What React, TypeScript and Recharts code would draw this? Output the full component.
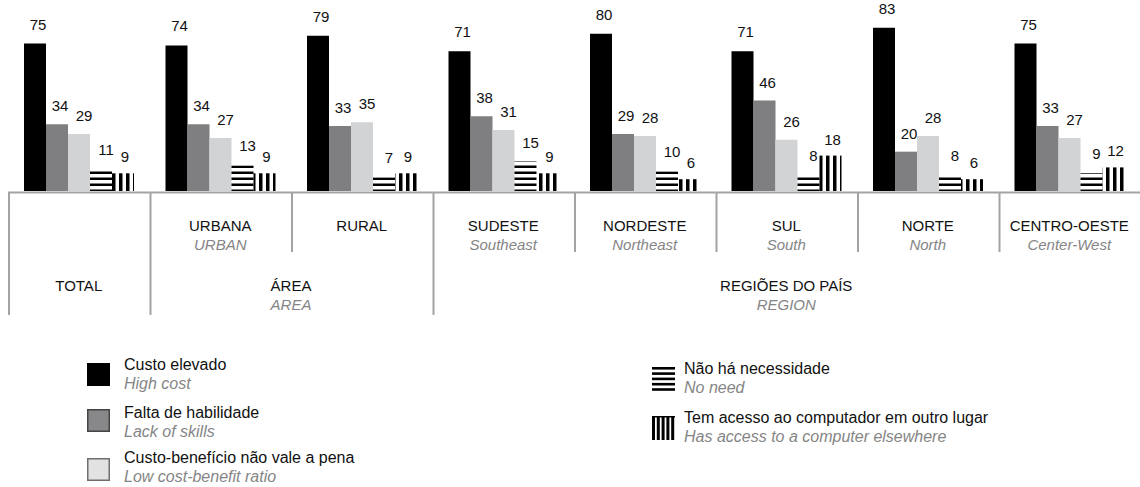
import { BarChart, Bar, XAxis, YAxis, LabelList } from "recharts";

// categories (pt) and their english subtitles
const categories = ["TOTAL", "URBANA", "RURAL", "SUDESTE", "NORDESTE", "SUL", "NORTE", "CENTRO-OESTE"];
const subtitles = ["", "URBAN", "", "Southeast", "Northeast", "South", "North", "Center-West"];

// series, in %
const highCost = [75, 74, 79, 71, 80, 71, 83, 75];
const lackSkills = [34, 34, 33, 38, 29, 46, 20, 33];
const lowBenefit = [29, 27, 35, 31, 28, 26, 28, 27];
const noNeed = [11, 13, 7, 15, 10, 8, 8, 9];
const elsewhere = [9, 9, 9, 9, 6, 18, 6, 12];

// grouping row under the categories
const groups = [
  { pt: "ÁREA", en: "AREA", first: 1, last: 2 },
  { pt: "REGIÕES DO PAÍS", en: "REGION", first: 3, last: 7 },
];

const data = categories.map((name, i) => ({
  name,
  sub: subtitles[i],
  highCost: highCost[i],
  lackSkills: lackSkills[i],
  lowBenefit: lowBenefit[i],
  noNeed: noNeed[i],
  elsewhere: elsewhere[i],
}));

const W = 1140;
const H = 320;
const LEFT = 8;
const TOP = 14;
const AXIS_H = 129;
const BASE = H - AXIS_H;
const BAND = (W - LEFT) / categories.length;
const FONT = '"Liberation Sans", Arial, Helvetica, sans-serif';
const LINE = "#a3a3a3";
const SUB = "#858585";

function TableTick(props: any) {
  const { x, index } = props;
  const left = x - BAND / 2;
  const right = x + BAND / 2;
  const group = groups.find((g) => index >= g.first && index <= g.last);
  const fullLine = !group || index === group.first;
  const txt = { fontFamily: FONT, fontSize: 15, textAnchor: "middle" as const };

  return (
    <g>
      <line x1={left} x2={right} y1={BASE + 1.5} y2={BASE + 1.5} stroke={LINE} strokeWidth={2} />
      <line x1={left + 1} x2={left + 1} y1={BASE + 1} y2={BASE + (fullLine ? 124 : 61)} stroke={LINE} strokeWidth={2} />
      {!group ? (
        <text x={x} y={BASE + 100} fill="#111" {...txt}>{categories[index]}</text>
      ) : (
        <>
          <text x={x} y={BASE + 40} fill="#111" {...txt}>{categories[index]}</text>
          {subtitles[index] && (
            <text x={x} y={BASE + 59} fill={SUB} fontStyle="italic" {...txt}>{subtitles[index]}</text>
          )}
        </>
      )}
      {group && index === group.first && (
        <>
          <text x={left + ((group.last - group.first + 1) * BAND) / 2} y={BASE + 100} fill="#111" {...txt}>
            {group.pt}
          </text>
          <text x={left + ((group.last - group.first + 1) * BAND) / 2} y={BASE + 119} fill={SUB} fontStyle="italic" {...txt}>
            {group.en}
          </text>
        </>
      )}
    </g>
  );
}

const labelStyle = { fontFamily: FONT, fontSize: 15, fill: "#111" };

function Swatch({ kind }: { kind: string }) {
  if (kind === "h") {
    return (
      <svg width={23} height={24}>
        {[0, 1, 2, 3, 4].map((k) => (
          <rect key={k} x={0} y={k * 5.3} width={23} height={2.6} fill="#000" />
        ))}
      </svg>
    );
  }
  if (kind === "v") {
    return (
      <svg width={23} height={24}>
        <rect x={0} y={0} width={23} height={1.5} fill="#000" />
        {[0, 1, 2, 3, 4].map((k) => (
          <rect key={k} x={k * 4.8} y={0} width={3} height={24} fill="#000" />
        ))}
      </svg>
    );
  }
  const fills: Record<string, [string, string]> = {
    black: ["#000", "#000"],
    gray: ["#88888a", "#444"],
    light: ["#e2e2e3", "#6f6f6f"],
  };
  const [fill, stroke] = fills[kind];
  return (
    <svg width={23} height={23}>
      <rect x={0.75} y={0.75} width={21.5} height={21.5} fill={fill} stroke={stroke} strokeWidth={1.5} />
    </svg>
  );
}

const legendItems = [
  { kind: "black", pt: "Custo elevado", en: "High cost", x: 87, y: 355, iy: 8 },
  { kind: "gray", pt: "Falta de habilidade", en: "Lack of skills", x: 87, y: 403, iy: 6 },
  { kind: "light", pt: "Custo-benefício não vale a pena", en: "Low cost-benefit ratio", x: 87, y: 448, iy: 10 },
  { kind: "h", pt: "Não há necessidade", en: "No need", x: 652, y: 359, iy: 8 },
  { kind: "v", pt: "Tem acesso ao computador em outro lugar", en: "Has access to a computer elsewhere", x: 652, y: 408, iy: 8 },
];

export default function App() {
  return (
    <div
      style={{
        position: "absolute",
        left: 0,
        top: 0,
        width: W,
        height: 487,
        background: "#fff",
        fontFamily: FONT,
        overflow: "hidden",
      }}
    >
      <BarChart
        width={W}
        height={H}
        data={data}
        margin={{ top: TOP, right: 0, left: LEFT, bottom: 0 }}
        barSize={22}
        barGap={0}
      >
        <defs>
          <pattern id="hatchH" patternUnits="userSpaceOnUse" width={8} height={6}>
            <rect x={0} y={3.5} width={8} height={2.5} fill="#000" />
          </pattern>
          <pattern id="hatchV" patternUnits="userSpaceOnUse" width={7} height={10}>
            <rect x={0} y={0} width={3.5} height={10} fill="#000" />
          </pattern>
        </defs>
        <XAxis
          dataKey="name"
          height={AXIS_H}
          axisLine={false}
          tickLine={false}
          interval={0}
          tick={<TableTick />}
        />
        <YAxis hide domain={[0, 90]} />
        <Bar dataKey="highCost" fill="#000" isAnimationActive={false}>
          <LabelList dataKey="highCost" position="top" offset={14} dx={3} style={labelStyle} />
        </Bar>
        <Bar dataKey="lackSkills" fill="#7f7f81" isAnimationActive={false}>
          <LabelList dataKey="lackSkills" position="top" offset={13} dx={3} style={labelStyle} />
        </Bar>
        <Bar dataKey="lowBenefit" fill="#d2d3d5" isAnimationActive={false}>
          <LabelList dataKey="lowBenefit" position="top" offset={13} dx={5} style={labelStyle} />
        </Bar>
        <Bar dataKey="noNeed" fill="url(#hatchH)" isAnimationActive={false}>
          <LabelList dataKey="noNeed" position="top" offset={14} dx={5} style={labelStyle} />
        </Bar>
        <Bar dataKey="elsewhere" fill="url(#hatchV)" isAnimationActive={false}>
          <LabelList dataKey="elsewhere" position="top" offset={11} dx={2} style={labelStyle} />
        </Bar>
      </BarChart>

      {legendItems.map((it) => (
        <div key={it.pt} style={{ position: "absolute", left: it.x, top: it.y }}>
          <div style={{ position: "absolute", left: 0, top: it.iy }}>
            <Swatch kind={it.kind} />
          </div>
          <div style={{ position: "absolute", left: it.kind === "h" || it.kind === "v" ? 32 : 37, top: 0, whiteSpace: "nowrap", fontSize: 16, lineHeight: "19px" }}>
            <div style={{ color: "#111" }}>{it.pt}</div>
            <div style={{ color: SUB, fontStyle: "italic" }}>{it.en}</div>
          </div>
        </div>
      ))}
    </div>
  );
}
